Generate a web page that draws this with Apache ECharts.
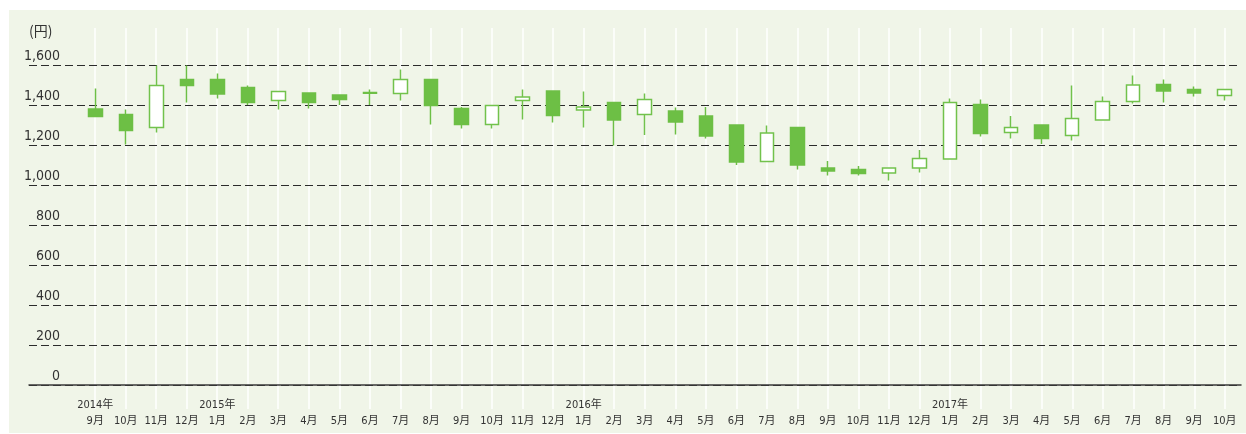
<!DOCTYPE html>
<html>
<head>
<meta charset="utf-8">
<script src="https://cdn.jsdelivr.net/npm/echarts@6/dist/echarts.min.js"></script>
<style>html,body{margin:0;padding:0;background:#fff;}#c{width:1246px;height:434px;}</style>
</head>
<body>
<div id="c"></div>
<script>
// Data (yen)
var years  = ["2014年","","","","2015年","","","","","","","","","","","","2016年","","","","","","","","","","","","2017年","","","","","","","","",""];
var months = ["9月","10月","11月","12月","1月","2月","3月","4月","5月","6月","7月","8月","9月","10月","11月","12月","1月","2月","3月","4月","5月","6月","7月","8月","9月","10月","11月","12月","1月","2月","3月","4月","5月","6月","7月","8月","9月","10月"];
var openVals  = [1380,1353,1288,1528,1528,1487,1422,1460,1450,1463,1458,1527,1382,1302,1423,1470,1375,1413,1353,1370,1345,1300,1118,1288,1085,1077,1060,1085,1130,1402,1262,1300,1248,1325,1417,1503,1477,1448];
var closeVals = [1342,1273,1497,1498,1455,1413,1467,1413,1428,1459,1528,1398,1302,1397,1440,1347,1390,1325,1428,1315,1245,1115,1260,1100,1070,1058,1085,1132,1412,1258,1288,1232,1333,1418,1500,1470,1460,1477];
var lowVals   = [1340,1203,1263,1412,1432,1400,1378,1383,1400,1400,1422,1303,1282,1282,1327,1312,1288,1198,1250,1252,1233,1100,1118,1078,1047,1047,1023,1063,1130,1242,1232,1205,1222,1325,1407,1412,1443,1422];
var highVals  = [1483,1378,1597,1597,1558,1497,1467,1460,1450,1478,1578,1527,1390,1397,1478,1470,1467,1413,1457,1387,1390,1300,1298,1288,1120,1095,1085,1175,1433,1428,1345,1300,1498,1442,1548,1528,1492,1480];
var yTicks = {min: 0, max: 1600, interval: 200};

var categories = months.map(function (m, i) { return years[i] + "\n" + m; });
var candles = openVals.map(function (o, i) { return [o, closeVals[i], lowVals[i], highVals[i]]; });

var chart = echarts.init(document.getElementById('c'));
var numFont = "'Liberation Sans Narrow','DejaVu Sans Condensed','Noto Sans CJK JP',sans-serif";
chart.setOption({
  backgroundColor: '#ffffff',
  animation: false,
  graphic: [{
    type: 'rect', z: -100, silent: true,
    shape: {x: 9, y: 10, width: 1237, height: 423},
    style: {fill: '#f0f5e8'}
  }],
  grid: [
    {left: 29, right: 5, top: 65, bottom: 49},
    {left: 80, right: 6, top: 65, bottom: 49},
    {left: 95, right: 21, top: 28, bottom: 25}
  ],
  xAxis: [
    {gridIndex: 0, type: 'value', min: 0, max: 1, show: true,
     axisLine: {show: true, lineStyle: {color: '#3a3a3a', width: 1.5}},
     axisTick: {show: false}, axisLabel: {show: false}, splitLine: {show: false}, z: 3},
    {gridIndex: 1, type: 'category', data: categories, boundaryGap: true,
     axisLine: {show: false}, axisTick: {show: false}, splitLine: {show: false},
     axisLabel: {interval: 0, margin: 12, lineHeight: 16, fontSize: 11, color: '#333',
       fontFamily: "'Liberation Sans Narrow','DejaVu Sans Condensed','Noto Sans CJK JP',sans-serif"}},
    {gridIndex: 2, type: 'category', data: months, boundaryGap: false,
     axisLine: {show: false}, axisTick: {show: false}, axisLabel: {show: false},
     splitLine: {show: true, interval: 0, lineStyle: {color: '#ffffff', width: 1.5}}, z: -5}
  ],
  yAxis: [
    {gridIndex: 0, type: 'value', min: yTicks.min, max: yTicks.max, interval: yTicks.interval,
     name: '(円)', nameLocation: 'end', nameGap: 27,
     nameTextStyle: {align: 'left', fontSize: 14, color: '#333', fontFamily: "'Noto Sans CJK JP',sans-serif"},
     axisLine: {show: false}, axisTick: {show: false},
     axisLabel: {margin: -31, align: 'right', verticalAlign: 'bottom', padding: [0, 0, 2, 0],
       fontSize: 14, color: '#333', fontFamily: numFont,
       formatter: function (v) { return String(v).replace(/\B(?=(\d{3})+(?!\d))/g, ','); }},
     splitLine: {show: true, lineStyle: {color: '#2b2b2b', type: [8, 4], width: 1}}, z: 2},
    {gridIndex: 1, type: 'value', min: yTicks.min, max: yTicks.max, interval: yTicks.interval, show: false,
     splitLine: {show: false}},
    {gridIndex: 2, type: 'value', min: 0, max: 1, show: false, splitLine: {show: false}}
  ],
  series: [{
    type: 'candlestick', xAxisIndex: 1, yAxisIndex: 1, data: candles, barWidth: 14, z: 5,
    itemStyle: {color: '#ffffff', color0: '#6dbf45', borderColor: '#72c24c', borderColor0: '#6dbf45', borderWidth: 1.5}
  }]
});
</script>
</body>
</html>
